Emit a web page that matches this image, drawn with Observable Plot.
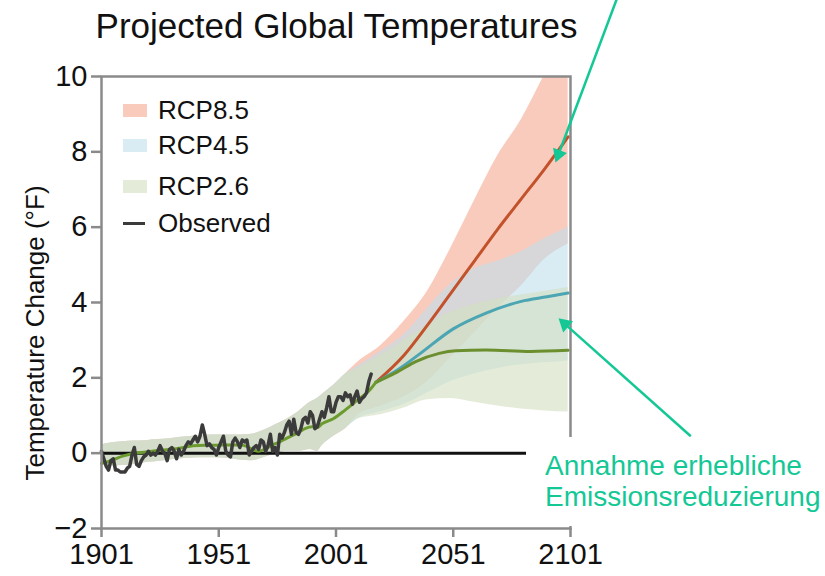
<!DOCTYPE html>
<html><head><meta charset="utf-8">
<script src="https://cdn.jsdelivr.net/npm/d3@7"></script>
<script src="https://cdn.jsdelivr.net/npm/@observablehq/plot@0.6"></script>
<style>
body{margin:0;background:#fff;font-family:"Liberation Sans",Arial,sans-serif;}
#wrap{position:relative;width:825px;height:576px;overflow:hidden;background:#fff;}
#chart{position:absolute;left:0;top:0;}
#title{position:absolute;left:0;top:8px;width:673px;text-align:center;font-size:35px;line-height:35px;color:#111;white-space:nowrap;}
#ylabel{position:absolute;left:35px;top:333px;transform:translate(-50%,-50%) rotate(-90deg);font-size:26px;line-height:26px;color:#111;white-space:nowrap;}
.lg{position:absolute;font-size:26px;line-height:30px;color:#111;white-space:nowrap;}
.sw{position:absolute;width:24px;height:13px;}
#box{position:absolute;left:526px;top:437px;width:299px;height:89px;background:#fff;}
#note{position:absolute;left:545px;top:450px;font-size:28px;line-height:31px;color:#14c896;white-space:nowrap;}
</style></head><body>
<div id="wrap">
  <div id="chart"></div>
  <div id="title">Projected Global Temperatures</div>
  <div id="ylabel">Temperature Change (°F)</div>
  <div id="legend"></div>
  <div id="box"></div>
  <div id="note">Annahme erhebliche<br>Emissionsreduzierung</div>
</div>
<script>
// ---------- data ----------
const xTicks = [1901, 1951, 2001, 2051, 2101];
const yTicks = [-2, 0, 2, 4, 6, 8, 10];

const legendLabels = ["RCP8.5", "RCP4.5", "RCP2.6", "Observed"];
const legendColors = ["#f9cbbd", "#d9ebf3", "#e4ecd9", "#3b3b3b"];

// historical model range (shared by all scenarios)
const histYears = [1901,1905,1910,1915,1920,1925,1930,1935,1940,1945,1950,1955,1960,1965,1970,1975,1980,1985,1990,1993,1995,2000,2005];
const histLo = [-0.3,-0.34,-0.33,-0.3,-0.25,-0.22,-0.18,-0.15,-0.13,-0.12,-0.12,-0.14,-0.18,-0.2,-0.12,-0.02,0.05,0.05,0.1,0.05,0.2,0.45,0.65];
const histHi = [0.22,0.27,0.3,0.32,0.33,0.36,0.38,0.42,0.45,0.47,0.48,0.48,0.48,0.5,0.6,0.75,0.9,1.1,1.35,1.45,1.55,1.8,2.1];

// future model ranges
const futYears = [2010,2020,2030,2040,2050,2060,2070,2080,2090,2100];
const rcp85Lo = [1.0,1.25,1.5,1.9,2.55,3.2,3.85,4.44,5.15,5.55];
const rcp85Hi = [2.4,2.85,3.5,4.3,5.45,6.7,7.9,8.85,10.05,11.2];
const rcp45Lo = [0.9,1.1,1.3,1.6,1.9,2.1,2.25,2.35,2.4,2.45];
const rcp45Hi = [2.3,2.7,3.15,3.85,4.5,4.9,5.1,5.35,5.7,6.0];
const rcp26Lo = [0.9,1.02,1.2,1.42,1.45,1.35,1.25,1.17,1.12,1.09];
const rcp26Hi = [2.25,2.6,3.0,3.4,3.75,3.95,4.1,4.2,4.3,4.4];

// multi-model means
const meanHistYears = [1901,1905,1910,1915,1920,1925,1930,1935,1940,1945,1950,1955,1960,1963,1965,1968,1971,1974,1977,1980,1985,1988,1991,1993,1995,2000,2005,2010,2015,2018];
const meanHist = [-0.27,-0.2,-0.08,0.0,0.03,0.07,0.1,0.14,0.2,0.21,0.21,0.22,0.22,0.18,0.11,0.05,0.12,0.22,0.3,0.4,0.55,0.66,0.7,0.68,0.78,0.92,1.15,1.4,1.65,1.88];
const mean26Years = [2018,2027,2035,2045,2052,2065,2084,2100];
const mean26 = [1.88,2.15,2.43,2.65,2.72,2.74,2.7,2.73];
const mean45Years = [2018,2027,2037,2051,2065,2080,2091,2100];
const mean45 = [1.88,2.2,2.65,3.3,3.72,4.03,4.15,4.25];
const mean85Years = [2018,2030,2040,2050,2060,2070,2080,2090,2100];
const mean85 = [1.88,2.6,3.4,4.25,5.1,5.95,6.75,7.55,8.4];

// observed annual values 1901-2016
const obsStart = 1901;
const observed = [
 0.05,-0.15,-0.35,-0.45,-0.2,-0.15,-0.45,-0.45,-0.5,-0.5,
 -0.5,-0.4,-0.35,-0.05,0.15,-0.3,-0.35,-0.2,-0.1,-0.05,
 0.05,-0.05,0.0,-0.05,0.05,0.2,0.05,0.0,-0.2,0.1,
 0.15,0.05,-0.15,0.1,-0.05,0.05,0.2,0.3,0.25,0.35,
 0.45,0.3,0.45,0.75,0.5,0.2,0.25,0.15,0.1,-0.05,
 0.15,0.3,0.45,0.05,-0.05,-0.1,0.3,0.4,0.3,0.15,
 0.35,0.3,0.35,-0.05,0.05,0.15,0.2,0.1,0.35,0.3,
 0.05,0.2,0.5,0.05,0.15,-0.05,0.5,0.4,0.55,0.75,
 0.85,0.5,0.9,0.55,0.5,0.65,0.9,0.95,0.8,1.1,
 1.0,0.65,0.7,0.9,1.1,0.95,1.2,1.5,1.1,1.1,
 1.35,1.5,1.5,1.4,1.6,1.5,1.55,1.3,1.5,1.65,
 1.35,1.45,1.5,1.6,1.9,2.1];

// annotation arrows (from, to) in data units
const arrowFromX = [2120.7, 2152.3];
const arrowFromY = [12.05, 0.45];
const arrowToX = [2094.6, 2095.9];
const arrowToY = [7.72, 3.58];

// ---------- build ----------
const W = 825, H = 576, mL = 101, mR = 255, mT = 76, mB = 48;
const xDomain = [1901, 2101], yDomain = [-2, 10];

function band(lo, hi) {
  return histYears.map((y, i) => ({year: y, lo: histLo[i], hi: histHi[i]}))
    .concat(futYears.map((y, i) => ({year: y, lo: lo[i], hi: hi[i]})));
}
const b85 = band(rcp85Lo, rcp85Hi), b45 = band(rcp45Lo, rcp45Hi), b26 = band(rcp26Lo, rcp26Hi);
const mHist = meanHistYears.map((y, i) => ({year: y, v: meanHist[i]}));
const m26 = mean26Years.map((y, i) => ({year: y, v: mean26[i]}));
const m45 = mean45Years.map((y, i) => ({year: y, v: mean45[i]}));
const m85 = mean85Years.map((y, i) => ({year: y, v: mean85[i]}));
const obs = observed.map((v, i) => ({year: obsStart + i, v}));

// arrowhead geometry
const xs = d3.scaleLinear(xDomain, [mL, W - mR]);
const ys = d3.scaleLinear(yDomain, [H - mB, mT]);
const headR = 5.5;
const arrows = arrowFromX.map((_, i) => {
  const px1 = xs(arrowFromX[i]), py1 = ys(arrowFromY[i]);
  const px2 = xs(arrowToX[i]), py2 = ys(arrowToY[i]);
  const dx = px2 - px1, dy = py2 - py1, L = Math.hypot(dx, dy);
  const ux = dx / L, uy = dy / L;
  const c = 1.555 * headR, b = 2.2 * headR;
  return {
    x1: arrowFromX[i], y1: arrowFromY[i],
    bx: xs.invert(px2 - ux * b), by: ys.invert(py2 - uy * b),
    cx: xs.invert(px2 - ux * c), cy: ys.invert(py2 - uy * c),
    rot: Math.atan2(dx, -dy) * 180 / Math.PI
  };
});

const fmtY = d => d < 0 ? "\u2212" + Math.abs(d) : String(d);
const gray = "#8a8a8a";

const chart = Plot.plot({
  width: W, height: H,
  marginLeft: mL, marginRight: mR, marginTop: mT, marginBottom: mB,
  x: {domain: xDomain},
  y: {domain: yDomain},
  style: {fontFamily: "'Liberation Sans', Arial, sans-serif", background: "transparent", overflow: "visible", color: "#111"},
  marks: [
    Plot.areaY(b85, {x: "year", y1: "lo", y2: "hi", fill: "#f5a891", fillOpacity: 0.6, curve: "monotone-x", clip: true}),
    Plot.areaY(b45, {x: "year", y1: "lo", y2: "hi", fill: "#c0deeb", fillOpacity: 0.6, curve: "monotone-x", clip: true}),
    Plot.areaY(b26, {x: "year", y1: "lo", y2: "hi", fill: "#d2dfc0", fillOpacity: 0.6, curve: "monotone-x", clip: true}),
    Plot.ruleY([0], {stroke: "#111", strokeWidth: 3}),
    Plot.lineY(m85, {x: "year", y: "v", stroke: "#c2522b", strokeWidth: 3, curve: "monotone-x"}),
    Plot.lineY(m45, {x: "year", y: "v", stroke: "#4ba5b3", strokeWidth: 3, curve: "monotone-x"}),
    Plot.lineY(m26, {x: "year", y: "v", stroke: "#6b8f2e", strokeWidth: 3, curve: "monotone-x"}),
    Plot.lineY(mHist, {x: "year", y: "v", stroke: "#6b9a2e", strokeWidth: 3, curve: "monotone-x"}),
    Plot.lineY(obs, {x: "year", y: "v", stroke: "#3b3b3b", strokeWidth: 3.5, strokeLinejoin: "round"}),
    Plot.frame({stroke: gray, strokeWidth: 2.5}),
    Plot.axisY({ticks: yTicks, tickSize: 10, tickPadding: 4, stroke: gray, strokeWidth: 2.5, fill: "#111", fontSize: 29, tickFormat: fmtY, label: null}),
    Plot.axisX({ticks: xTicks, tickSize: 9, tickPadding: 6, stroke: gray, strokeWidth: 2.5, fill: "#111", fontSize: 29, tickFormat: d => String(d), label: null}),
    Plot.link(arrows, {x1: "x1", y1: "y1", x2: "bx", y2: "by", stroke: "#14c896", strokeWidth: 2.5}),
    Plot.dot(arrows, {x: "cx", y: "cy", symbol: "triangle", r: headR, rotate: "rot", fill: "#14c896", stroke: "none"})
  ]
});
document.getElementById("chart").appendChild(chart);

// legend
const lg = document.getElementById("legend");
const legendTop = [110, 145, 186, 223];
legendLabels.forEach((t, i) => {
  const s = document.createElement("div");
  s.className = "sw";
  s.style.left = "123px";
  if (i < 3) { s.style.top = (legendTop[i] - 6) + "px"; s.style.background = legendColors[i]; }
  else { s.style.top = (legendTop[i] - 1.5) + "px"; s.style.height = "3px"; s.style.width = "22px"; s.style.background = legendColors[i]; }
  lg.appendChild(s);
  const d = document.createElement("div");
  d.className = "lg";
  d.style.left = "158px";
  d.style.top = (legendTop[i] - 15) + "px";
  d.textContent = t;
  lg.appendChild(d);
});
</script>
</body></html>
